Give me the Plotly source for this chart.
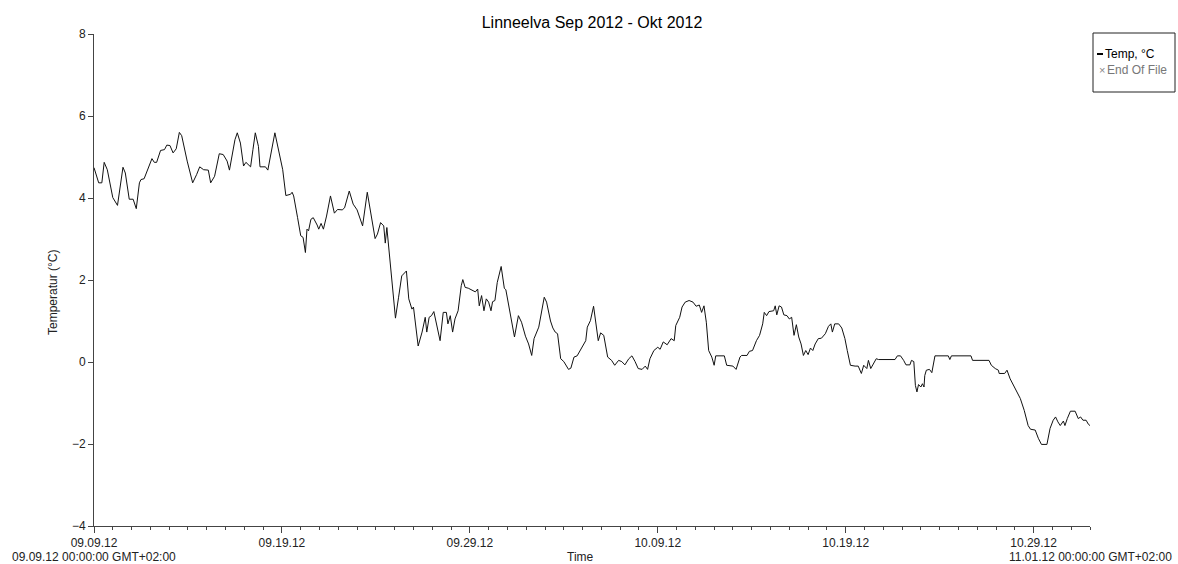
import pandas as pd
import plotly.graph_objects as go

# Logger record: elapsed hours since 2012-09-09 00:00 (GMT+02:00) and water temperature (°C)
start_time = "2012-09-09 00:00:00"
hours_since_start = [
    0, 6, 10, 13, 17, 24, 30, 37, 40, 45, 50, 54, 58, 60, 64, 70, 74, 77, 80, 85,
    90, 93, 97, 101, 105, 109, 112, 119, 126, 131, 135, 140, 146, 149, 154, 160, 165, 170, 173, 180,
    183, 187, 191, 194, 200, 203, 206, 210, 212, 219, 222, 231, 236, 241, 245, 251, 253, 255, 260, 264,
    267, 270, 272, 274, 277, 280, 285, 287, 290, 293, 297, 302, 307, 311, 317, 320, 326, 331, 336, 340,
    343, 349, 355, 359, 362, 366, 370, 372, 374, 377, 380, 385, 389, 393, 399, 402, 406, 408, 414, 419,
    423, 425, 428, 431, 434, 438, 442, 446, 450, 452, 455, 458, 461, 465, 469, 471, 474, 478, 483, 487,
    490, 492, 495, 498, 501, 504, 507, 509, 512, 515, 520, 524, 526, 531, 537, 542, 546, 551, 555, 559,
    562, 568, 575, 578, 583, 586, 589, 592, 596, 600, 606, 609, 613, 617, 623, 628, 630, 634, 638, 641,
    644, 647, 651, 656, 661, 665, 670, 674, 678, 683, 687, 691, 695, 700, 704, 707, 710, 715, 720, 723,
    727, 732, 737, 741, 743, 748, 751, 755, 760, 765, 769, 773, 776, 779, 782, 785, 789, 792, 794, 805,
    808, 816, 820, 825, 827, 834, 837, 841, 846, 850, 854, 856, 859, 862, 868, 870, 872, 875, 878, 881,
    885, 888, 891, 894, 897, 900, 903, 906, 909, 912, 915, 918, 921, 925, 929, 934, 938, 941, 943, 946,
    951, 955, 959, 962, 966, 972, 976, 980, 983, 987, 989, 992, 995, 999, 1002, 1023, 1026, 1030, 1034, 1037,
    1042, 1044, 1047, 1049, 1051, 1053, 1056, 1058, 1060, 1061, 1063, 1067, 1070, 1072, 1074, 1091, 1093, 1095, 1120, 1122,
    1143, 1146, 1151, 1155, 1156, 1163, 1166, 1170, 1176, 1183, 1188, 1193, 1196, 1202, 1206, 1210, 1217, 1221, 1225, 1228,
    1231, 1234, 1238, 1240, 1243, 1247, 1253, 1257, 1260, 1263, 1267, 1270, 1272,
]
temperature_c = [
    4.74, 4.37, 4.37, 4.87, 4.69, 4.01, 3.82, 4.75, 4.61, 3.97, 3.97, 3.74, 4.37, 4.45, 4.47, 4.78, 4.96, 4.87, 4.87, 5.16,
    5.18, 5.29, 5.28, 5.10, 5.20, 5.60, 5.52, 4.90, 4.37, 4.57, 4.76, 4.69, 4.68, 4.37, 4.53, 5.08, 5.06, 4.90, 4.68, 5.42,
    5.59, 5.34, 4.78, 4.87, 4.76, 5.18, 5.59, 5.26, 4.76, 4.76, 4.68, 5.59, 5.18, 4.69, 4.06, 4.09, 4.14, 4.05, 3.52, 3.08,
    3.04, 2.67, 3.24, 3.20, 3.48, 3.52, 3.34, 3.24, 3.38, 3.24, 3.56, 4.05, 3.63, 3.72, 3.71, 3.76, 4.17, 3.85, 3.71, 3.50,
    3.32, 4.14, 3.48, 3.01, 3.12, 3.40, 3.32, 2.90, 3.28, 2.67, 2.02, 1.07, 1.58, 2.10, 2.22, 1.54, 1.29, 1.34, 0.39, 0.73,
    1.09, 0.73, 1.09, 1.13, 1.23, 0.85, 0.52, 1.21, 1.21, 0.93, 1.13, 0.73, 1.05, 1.25, 1.86, 2.01, 1.82, 1.80, 1.76, 1.71,
    1.78, 1.37, 1.62, 1.25, 1.54, 1.46, 1.25, 1.47, 1.50, 1.94, 2.33, 1.80, 1.76, 1.25, 0.61, 1.13, 0.97, 0.63, 0.44, 0.16,
    0.57, 0.85, 1.58, 1.46, 1.00, 0.83, 0.73, 0.69, 0.08, 0.01, -0.18, -0.15, 0.12, 0.15, 0.36, 0.52, 0.85, 1.01, 1.36, 0.89,
    0.52, 0.71, 0.65, 0.12, 0.04, -0.08, 0.04, 0.01, -0.07, 0.08, 0.15, 0.01, -0.16, -0.18, -0.10, -0.18, 0.08, 0.28, 0.36, 0.31,
    0.49, 0.42, 0.57, 0.52, 0.89, 1.09, 1.34, 1.46, 1.50, 1.46, 1.36, 1.39, 1.21, 1.37, 0.97, 0.28, 0.12, -0.08, 0.15, 0.15,
    -0.08, -0.10, -0.18, 0.12, 0.16, 0.16, 0.26, 0.28, 0.52, 0.65, 0.93, 1.21, 1.13, 1.23, 1.25, 1.37, 1.15, 1.37, 1.34, 1.15,
    1.13, 1.05, 1.09, 0.65, 0.91, 0.61, 0.44, 0.16, 0.28, 0.18, 0.34, 0.28, 0.44, 0.57, 0.58, 0.69, 0.87, 0.93, 0.73, 0.93,
    0.93, 0.83, 0.57, 0.28, -0.08, -0.10, -0.10, -0.28, -0.08, -0.16, 0.04, -0.16, -0.04, 0.08, 0.06, 0.06, 0.15, 0.15, 0.04, -0.07,
    -0.07, 0.04, 0.01, -0.57, -0.73, -0.55, -0.61, -0.53, -0.61, -0.33, -0.20, -0.18, -0.26, -0.07, 0.15, 0.15, 0.06, 0.15, 0.15, 0.04,
    0.04, -0.08, -0.16, -0.20, -0.28, -0.28, -0.20, -0.41, -0.65, -0.89, -1.18, -1.55, -1.64, -1.66, -1.86, -2.01, -2.01, -1.62, -1.42, -1.34,
    -1.46, -1.55, -1.44, -1.55, -1.38, -1.20, -1.20, -1.38, -1.34, -1.42, -1.42, -1.52, -1.55,
]

# Axis extents and labelling
x_start, x_end = "2012-09-09", "2012-11-01"
y_range = [-4, 8]
title_text = "Linneelva Sep 2012 - Okt 2012"
y_title = "Temperatur (°C)"
x_title = "Time"
start_label = "09.09.12 00:00:00 GMT+02:00"
end_label = "11.01.12 00:00:00 GMT+02:00"
legend_entries = ["Temp, °C", "End Of File"]

timestamps = pd.Timestamp(start_time) + pd.to_timedelta(hours_since_start, unit="h")

FONT = "Liberation Sans, Arial, sans-serif"
AXIS = "#444444"
DAY_MS = 86400000

fig = go.Figure()
fig.add_trace(go.Scatter(
    x=timestamps, y=temperature_c, mode="lines",
    line=dict(color="#111111", width=1), name=legend_entries[0],
    showlegend=False, hoverinfo="x+y",
))

fig.update_layout(
    width=1178, height=564,
    margin=dict(l=94, r=88, t=34, b=38),
    paper_bgcolor="white", plot_bgcolor="white",
    font=dict(family=FONT, size=12, color="#222222"),
    showlegend=False,
    title=dict(text=title_text, x=0.5, xref="paper", xanchor="center",
               y=1 - 22 / 564, yref="container", yanchor="middle",
               font=dict(family=FONT, size=16, color="#000000")),
)

fig.update_xaxes(
    type="date", range=[x_start, x_end],
    tick0=x_start, dtick=10 * DAY_MS, tickformat="%m.%d.%y",
    ticks="outside", ticklen=6, tickwidth=1, tickcolor=AXIS,
    minor=dict(dtick=DAY_MS, tick0=x_start, ticks="outside", ticklen=3, tickcolor=AXIS),
    showline=True, linecolor=AXIS, linewidth=1,
    showgrid=False, zeroline=False,
    tickfont=dict(family=FONT, size=12, color="#222222"),
)
fig.update_yaxes(
    range=y_range, dtick=2, tick0=0,
    ticks="outside", ticklen=5, tickwidth=1, tickcolor=AXIS,
    showline=True, linecolor=AXIS, linewidth=1,
    showgrid=False, zeroline=False,
    tickfont=dict(family=FONT, size=12, color="#222222"),
)

plot_w = 1178 - 94 - 88
plot_h = 564 - 34 - 38

annotations = [
    dict(text=y_title, xref="paper", yref="paper", x=(53 - 94) / plot_w, y=(526 - 293) / plot_h,
         textangle=-90, showarrow=False, xanchor="center", yanchor="middle",
         font=dict(family=FONT, size=12, color="#222222")),
    dict(text=x_title, xref="paper", yref="paper", x=(580 - 94) / plot_w, y=0, yshift=-31,
         showarrow=False, xanchor="center", yanchor="middle",
         font=dict(family=FONT, size=12, color="#222222")),
    dict(text=start_label, xref="paper", yref="paper", x=0, y=0, yshift=-31,
         showarrow=False, xanchor="center", yanchor="middle",
         font=dict(family=FONT, size=12, color="#222222")),
    dict(text=end_label, xref="paper", yref="paper", x=1, y=0, yshift=-31,
         showarrow=False, xanchor="center", yanchor="middle",
         font=dict(family=FONT, size=12, color="#222222")),
    # legend texts
    dict(text=legend_entries[0], xref="paper", yref="paper",
         x=(1103 - 94) / plot_w, y=(526 - 54) / plot_h, showarrow=False,
         xanchor="left", yanchor="middle", font=dict(family=FONT, size=12, color="#000000")),
    dict(text="×", xref="paper", yref="paper",
         x=(1102 - 94) / plot_w, y=(526 - 70) / plot_h, showarrow=False,
         xanchor="center", yanchor="middle", font=dict(family=FONT, size=11, color="#888888")),
    dict(text=legend_entries[1], xref="paper", yref="paper",
         x=(1105 - 94) / plot_w, y=(526 - 70) / plot_h, showarrow=False,
         xanchor="left", yanchor="middle", font=dict(family=FONT, size=12, color="#777777")),
]
fig.update_layout(annotations=annotations)

# legend frame and line sample
fig.add_shape(type="rect", xref="paper", yref="paper",
              x0=(1093 - 94) / plot_w, x1=(1175 - 94) / plot_w,
              y0=(526 - 92) / plot_h, y1=(526 - 33) / plot_h,
              line=dict(color="#222222", width=1), fillcolor="white")
fig.add_shape(type="line", xref="paper", yref="paper",
              x0=(1097 - 94) / plot_w, x1=(1103 - 94) / plot_w,
              y0=(526 - 54) / plot_h, y1=(526 - 54) / plot_h,
              line=dict(color="#000000", width=2))

fig.write_html("out.html")
